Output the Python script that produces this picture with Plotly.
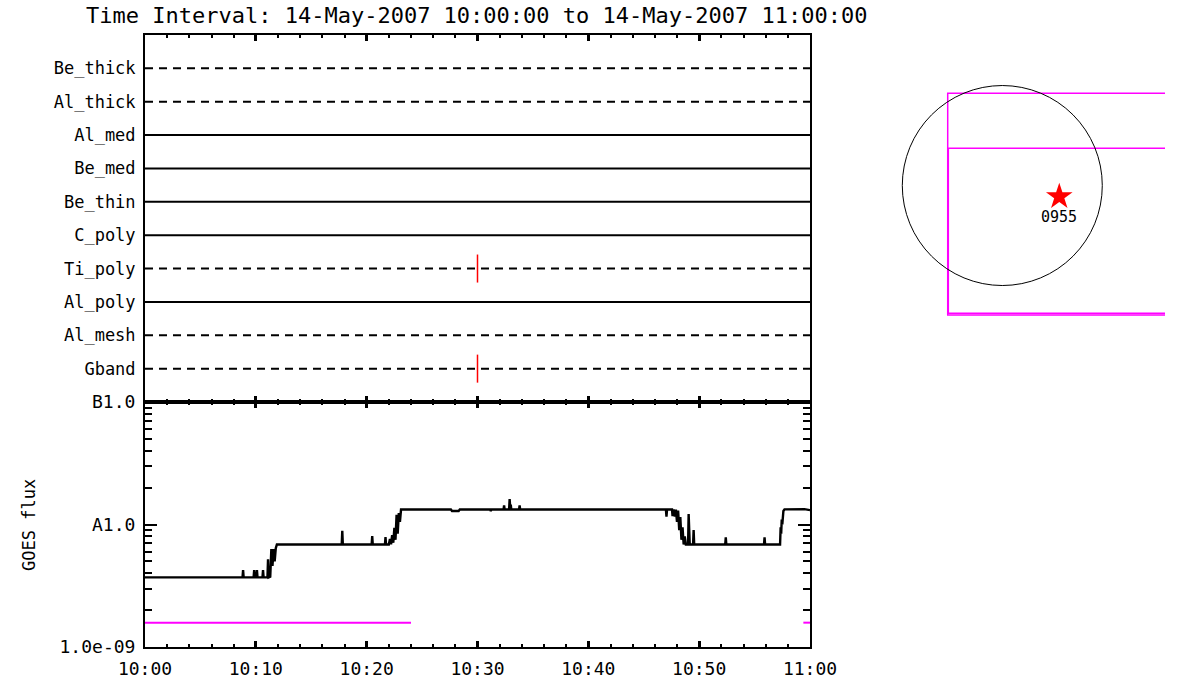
import pandas as pd
import plotly.graph_objects as go

# ---------------- data ----------------
t_start = "2007-05-14 10:00:00"
t_end = "2007-05-14 11:00:00"
title_text = "Time Interval: 14-May-2007 10:00:00 to 14-May-2007 11:00:00"

# filter channels, bottom to top
channels = ["Gband", "Al_mesh", "Al_poly", "Ti_poly", "C_poly",
            "Be_thin", "Be_med", "Al_med", "Al_thick", "Be_thick"]
dashed_channels = ["Gband", "Al_mesh", "Ti_poly", "Al_thick", "Be_thick"]
# image times (minutes after 10:00) per channel
event_channels = ["Ti_poly", "Gband"]
event_minutes = [30.0, 30.0]
event_colors = ["red", "red"]

# GOES long channel (minutes after 10:00, flux in W/m^2 x 1e-9)
goes_min = [0, 8.80, 8.85, 8.90, 9.80, 9.85, 9.90, 10.05, 10.10, 10.15,
            10.60, 10.65, 10.70, 11.05, 11.10, 11.15, 11.30, 11.40, 11.50,
            11.60, 11.70, 11.80, 11.90, 17.75, 17.80, 17.85, 20.45, 20.50,
            20.55, 21.65, 21.70, 21.75, 22.00, 22.10, 22.20, 22.30, 22.40,
            22.50, 22.60, 22.70, 22.80, 22.90, 23.00, 23.10, 27.60, 27.70,
            28.00, 28.30, 28.40, 31.15, 31.20, 31.25, 32.35, 32.40, 32.45,
            32.85, 32.90, 32.95, 33.00, 33.05, 33.75, 33.80, 33.85, 47.00,
            47.05, 47.10, 47.55, 47.60, 47.70, 47.80, 47.90, 48.00, 48.10,
            48.20, 48.30, 48.40, 48.50, 48.60, 48.70, 48.80, 49.00, 49.05,
            49.10, 49.15, 49.45, 49.50, 49.55, 52.35, 52.40, 52.45, 55.85,
            55.90, 55.95, 57.30, 57.35, 57.40, 57.45, 57.50, 57.60, 57.70,
            59.50, 60.0]
goes_flux_e9 = [3.70, 3.70, 4.25, 3.70, 3.70, 4.25, 3.70, 3.70, 4.25, 3.70,
                3.70, 4.25, 3.70, 3.70, 5.20, 3.70, 3.75, 6.30, 4.60,
                6.30, 5.00, 6.40, 6.87, 6.87, 8.90, 6.87, 6.87, 8.05,
                6.87, 6.87, 7.90, 6.87, 6.87, 7.60, 6.90, 8.20, 7.10,
                9.40, 7.50, 12.0, 8.40, 12.4, 10.5, 13.25, 13.25, 12.9,
                12.9, 12.9, 13.25, 13.25, 12.9, 13.25, 13.25, 14.35, 13.25,
                13.25, 16.1, 13.8, 14.5, 13.25, 13.25, 14.35, 13.25, 13.25,
                11.6, 13.25, 13.25, 11.7, 13.25, 11.6, 13.25, 10.5, 13.0,
                9.0, 11.5, 7.5, 9.5, 6.87, 8.0, 6.87, 6.87, 12.2,
                7.0, 6.87, 6.87, 9.0, 6.87, 6.87, 7.86, 6.87, 6.87,
                7.86, 6.87, 6.87, 9.5, 8.4, 11.0, 10.0, 12.9, 13.3,
                13.35, 13.1]

# GOES short channel (two segments)
goes_lo_seg1_min = [0.0, 24.0]
goes_lo_seg1_e9 = [1.58, 1.58]
goes_lo_seg2_min = [59.4, 60.0]
goes_lo_seg2_e9 = [1.58, 1.58]

goes_tickvals = [1e-9, 1e-8, 1e-7]
goes_ticktext = ["1.0e-09", "A1.0", "B1.0"]
goes_minor = [2e-9, 3e-9, 4e-9, 5e-9, 6e-9, 7e-9, 8e-9, 9e-9,
              2e-8, 3e-8, 4e-8, 5e-8, 6e-8, 7e-8, 8e-8, 9e-8]

# context image (arcsec)
sun_radius = 960
flare_x, flare_y = [547], [-107]
flare_label = ["0955"]
fov_outer = dict(left=-524, top=885, bottom=-1243, right=3000)
fov_inner = dict(left=-518, top=357, bottom=-1227, right=3000)

# ---------------- helpers ----------------
base = pd.Timestamp(t_start)
def tm(mins):
    return [base + pd.Timedelta(minutes=m) for m in mins]

FONT = "DejaVu Sans Mono"
W, H = 1200, 700
def px_x(p):
    return p / W
def px_y(p):
    return 1 - p / H

fig = go.Figure()

# ---- top panel: channel lines ----
for i, ch in enumerate(channels, start=1):
    fig.add_trace(go.Scatter(
        x=[pd.Timestamp(t_start), pd.Timestamp(t_end)], y=[i, i],
        mode="lines", xaxis="x", yaxis="y", showlegend=False,
        line=dict(color="black", width=2,
                  dash="8px,6px" if ch in dashed_channels else "solid")))
for ch, m, c in zip(event_channels, event_minutes, event_colors):
    k = channels.index(ch) + 1
    tt = tm([m])[0]
    fig.add_trace(go.Scatter(
        x=[tt, tt], y=[k - 0.42, k + 0.42], mode="lines",
        xaxis="x", yaxis="y", showlegend=False,
        line=dict(color=c, width=1.5)))

# ---- GOES panel ----
fig.add_trace(go.Scatter(
    x=tm(goes_min), y=[v * 1e-9 for v in goes_flux_e9], mode="lines",
    xaxis="x2", yaxis="y2", showlegend=False,
    line=dict(color="black", width=2.4)))
for mins, vals in [(goes_lo_seg1_min, goes_lo_seg1_e9),
                   (goes_lo_seg2_min, goes_lo_seg2_e9)]:
    fig.add_trace(go.Scatter(
        x=tm(mins), y=[v * 1e-9 for v in vals], mode="lines",
        xaxis="x2", yaxis="y2", showlegend=False,
        line=dict(color="#ff00ff", width=2)))

# ---- context image ----
for box in [fov_outer, fov_inner]:
    fig.add_trace(go.Scatter(
        x=[box["right"], box["left"], box["left"], box["right"]],
        y=[box["top"], box["top"], box["bottom"], box["bottom"]],
        mode="lines", xaxis="x3", yaxis="y3", showlegend=False,
        line=dict(color="#ff00ff", width=1.5)))
fig.add_shape(type="circle", xref="x3", yref="y3",
              x0=-sun_radius, x1=sun_radius, y0=-sun_radius, y1=sun_radius,
              line=dict(color="black", width=1))
fig.add_trace(go.Scatter(
    x=flare_x, y=flare_y, mode="markers", xaxis="x3", yaxis="y3",
    showlegend=False,
    marker=dict(symbol="star", size=20, color="red", line=dict(width=0))))
fig.add_annotation(x=flare_x[0], y=flare_y[0] - 195, xref="x3", yref="y3",
                   text=flare_label[0], showarrow=False,
                   font=dict(family=FONT, size=15, color="black"))

# ---- axes ----
xdom = [px_x(145), px_x(810)]
time_axis = dict(
    type="date", range=[t_start, t_end], domain=xdom, automargin=False,
    showgrid=False, zeroline=False, showline=True, linecolor="black",
    linewidth=2, mirror="ticks", ticks="inside", ticklen=6, tickwidth=3,
    tickcolor="black", dtick=600000, tick0=t_start,
    minor=dict(dtick=120000, tick0=t_start, ticks="inside", ticklen=3,
               tickwidth=2, tickcolor="black", showgrid=False))

fig.update_layout(
    width=W, height=H, autosize=False,
    margin=dict(l=0, r=0, t=0, b=0, pad=0),
    paper_bgcolor="white", plot_bgcolor="white",
    font=dict(family=FONT, color="black"),
    xaxis=dict(time_axis, anchor="y", showticklabels=False),
    yaxis=dict(domain=[px_y(402), px_y(35)], range=[0, 11],
               tickvals=list(range(1, len(channels) + 1)),
               ticktext=channels, ticks="", showgrid=False,
               zeroline=False, showline=True, mirror=True, automargin=False,
               linecolor="black", linewidth=2, anchor="x",
               tickfont=dict(family=FONT, size=17),
               ticklabelstandoff=4),
    xaxis2=dict(time_axis, anchor="y2", tickformat="%H:%M",
                tickfont=dict(family=FONT, size=18), ticklabelstandoff=4),
    yaxis2=dict(domain=[px_y(647), px_y(402)], type="log", range=[-9, -7],
                tickvals=goes_tickvals, ticktext=goes_ticktext,
                ticks="inside", ticklen=12, tickwidth=2, tickcolor="black",
                minor=dict(tickvals=goes_minor, ticks="inside", ticklen=7,
                           tickwidth=1.5, tickcolor="black", showgrid=False),
                showgrid=False, zeroline=False, showline=True,
                mirror="ticks", linecolor="black", linewidth=2,
                anchor="x2", tickfont=dict(family=FONT, size=18),
                ticklabelstandoff=4, automargin=False),
    xaxis3=dict(domain=[px_x(890), px_x(1165)], range=[-1078, 1562],
                visible=False, anchor="y3", automargin=False),
    yaxis3=dict(domain=[px_y(320), px_y(80)], range=[-1291, 1013],
                visible=False, anchor="x3", automargin=False),
)

fig.add_annotation(x=px_x(476), y=px_y(15), xref="paper", yref="paper",
                   text=title_text, showarrow=False, xanchor="center",
                   yanchor="middle",
                   font=dict(family=FONT, size=22, color="black"))
fig.add_annotation(x=px_x(29), y=px_y(525), xref="paper", yref="paper",
                   text="GOES flux", showarrow=False, textangle=-90,
                   xanchor="center", yanchor="middle",
                   font=dict(family=FONT, size=17, color="black"))

fig.write_html(
    "out.html",
    config={"displayModeBar": False},
    post_script="document.body.style.margin='0px';"
                "document.body.style.overflow='hidden';")
